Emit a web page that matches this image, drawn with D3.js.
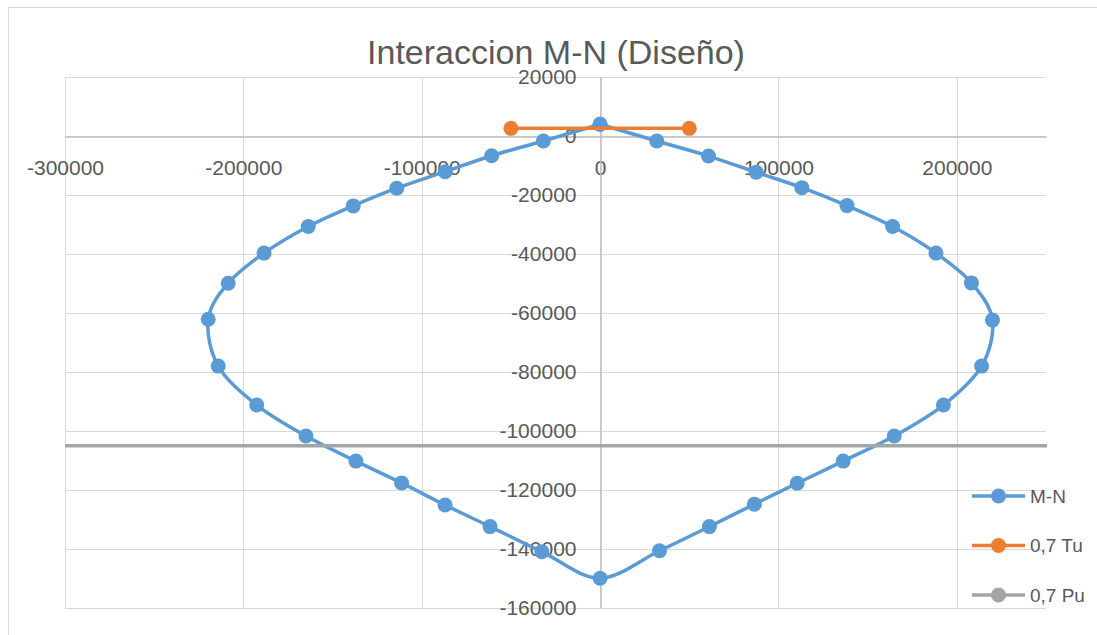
<!DOCTYPE html>
<html>
<head>
<meta charset="utf-8">
<script src="https://cdn.jsdelivr.net/npm/d3@7"></script>
<style>
  html, body { margin: 0; padding: 0; background: #ffffff; }
  svg { display: block; }
  text { font-family: "Liberation Sans", Arial, sans-serif; fill: #595959; }
</style>
</head>
<body>
<svg id="chart" width="1097" height="635"></svg>
<script>
// Interaction diagram M-N: moment (M) on x, axial load (N) on y
const mnMoment = [
  0, 31800, 60800, 87500, 113100, 138400, 164000, 188300, 208200, 220000,
  213900, 192500, 164900, 136300, 110500, 86500, 61300, 33300, 0,
  -32700, -61700, -86900, -111300, -136900, -164900, -192500, -214100,
  -219700, -208500, -188400, -163600, -138400, -114000, -86900, -60800,
  -31800, 0
];
const mnAxial = [
  4000, -1700, -6800, -12300, -17500, -23600, -30700, -39700, -49800, -62400,
  -78000, -91200, -101700, -110200, -117700, -124800, -132400, -140600, -149900,
  -140900, -132400, -125100, -117600, -110200, -101700, -91200, -78000,
  -62100, -49900, -39700, -30700, -23700, -17700, -12100, -6700,
  -1700, 4000
];

// 0,7 Tu: tension limit
const tuMoment = [-50000, 50000];
const tuAxial = [2600, 2600];

// 0,7 Pu: compression limit (runs past both sides of the plot)
const puMoment = [-400000, 400000];
const puAxial = [-105000, -105000];

const xTicks = [-300000, -200000, -100000, 0, 100000, 200000];
const yTicks = [20000, 0, -20000, -40000, -60000, -80000, -100000, -120000, -140000, -160000];
const legendLabels = ["M-N", "0,7 Tu", "0,7 Pu"];
const seriesColors = ["#5B9BD5", "#ED7D31", "#A5A5A5"];

const svg = d3.select("#chart");

// outer chart frame
svg.append("rect")
  .attr("x", 8.5).attr("y", 7.5)
  .attr("width", 1100).attr("height", 640)
  .attr("fill", "#ffffff")
  .attr("stroke", "#d9d9d9")
  .attr("stroke-width", 1);

const plot = { left: 65, right: 1046, top: 77, bottom: 608 };

const x = d3.scaleLinear().domain([-300000, 250000]).range([plot.left, plot.right]);
const y = d3.scaleLinear().domain([-160000, 20000]).range([plot.bottom, plot.top]);

// title
svg.append("text")
  .attr("x", 556).attr("y", 64)
  .attr("text-anchor", "middle")
  .style("font-size", "34px")
  .text("Interaccion M-N (Diseño)");

// gridlines
const grid = svg.append("g");
grid.selectAll("line.gx").data(xTicks).join("line")
  .attr("x1", d => Math.round(x(d)) + 0.5).attr("x2", d => Math.round(x(d)) + 0.5)
  .attr("y1", plot.top).attr("y2", plot.bottom)
  .attr("stroke", "#d9d9d9").attr("stroke-width", 1);
grid.selectAll("line.gy").data(yTicks).join("line")
  .attr("x1", plot.left).attr("x2", plot.right)
  .attr("y1", d => Math.round(y(d)) + 0.5).attr("y2", d => Math.round(y(d)) + 0.5)
  .attr("stroke", "#d9d9d9").attr("stroke-width", 1);

// axes crossing at the origin (plain hyphen for negatives)
const fmt = d => String(d);
const xAxis = svg.append("g")
  .attr("transform", `translate(0,${Math.round(y(0)) + 0.5})`)
  .call(d3.axisBottom(x).tickValues(xTicks).tickFormat(fmt).tickSize(0).tickPadding(24));
const yAxis = svg.append("g")
  .attr("transform", `translate(${Math.round(x(0)) + 0.5},0)`)
  .call(d3.axisLeft(y).tickValues(yTicks).tickFormat(fmt).tickSize(0).tickPadding(24));

[xAxis, yAxis].forEach(a => {
  a.select(".domain").attr("stroke", "#bfbfbf").attr("stroke-width", 1.5);
  a.selectAll("text")
    .style("font-size", "21px")
    .style("font-family", "'Liberation Sans', Arial, sans-serif")
    .attr("fill", "#595959");
});

// clip series to the plot area
svg.append("clipPath").attr("id", "plotClip")
  .append("rect")
  .attr("x", plot.left).attr("y", plot.top - 10)
  .attr("width", plot.right - plot.left + 1)
  .attr("height", plot.bottom - plot.top + 20);

const series = [
  { xs: mnMoment, ys: mnAxial, curve: d3.curveCardinal.tension(0) },
  { xs: tuMoment, ys: tuAxial, curve: d3.curveLinear },
  { xs: puMoment, ys: puAxial, curve: d3.curveLinear }
];

const layer = svg.append("g").attr("clip-path", "url(#plotClip)");
series.forEach((s, i) => {
  const pts = s.xs.map((v, k) => [v, s.ys[k]]);
  const line = d3.line().x(d => x(d[0])).y(d => y(d[1])).curve(s.curve);
  const g = layer.append("g");
  g.append("path")
    .attr("d", line(pts))
    .attr("fill", "none")
    .attr("stroke", seriesColors[i])
    .attr("stroke-width", 3.5)
    .attr("stroke-linejoin", "round");
  g.selectAll("circle").data(pts).join("circle")
    .attr("cx", d => x(d[0])).attr("cy", d => y(d[1]))
    .attr("r", 7.5)
    .attr("fill", seriesColors[i]);
});

// legend
const legend = svg.append("g");
legendLabels.forEach((lab, i) => {
  const cy = 496 + i * 49.5;
  legend.append("line")
    .attr("x1", 972).attr("x2", 1025)
    .attr("y1", cy).attr("y2", cy)
    .attr("stroke", seriesColors[i]).attr("stroke-width", 3.5);
  legend.append("circle")
    .attr("cx", 998.5).attr("cy", cy).attr("r", 7.5)
    .attr("fill", seriesColors[i]);
  legend.append("text")
    .attr("x", 1030).attr("y", cy)
    .attr("dy", "0.35em")
    .style("font-size", "19px")
    .text(lab);
});
</script>
</body>
</html>
